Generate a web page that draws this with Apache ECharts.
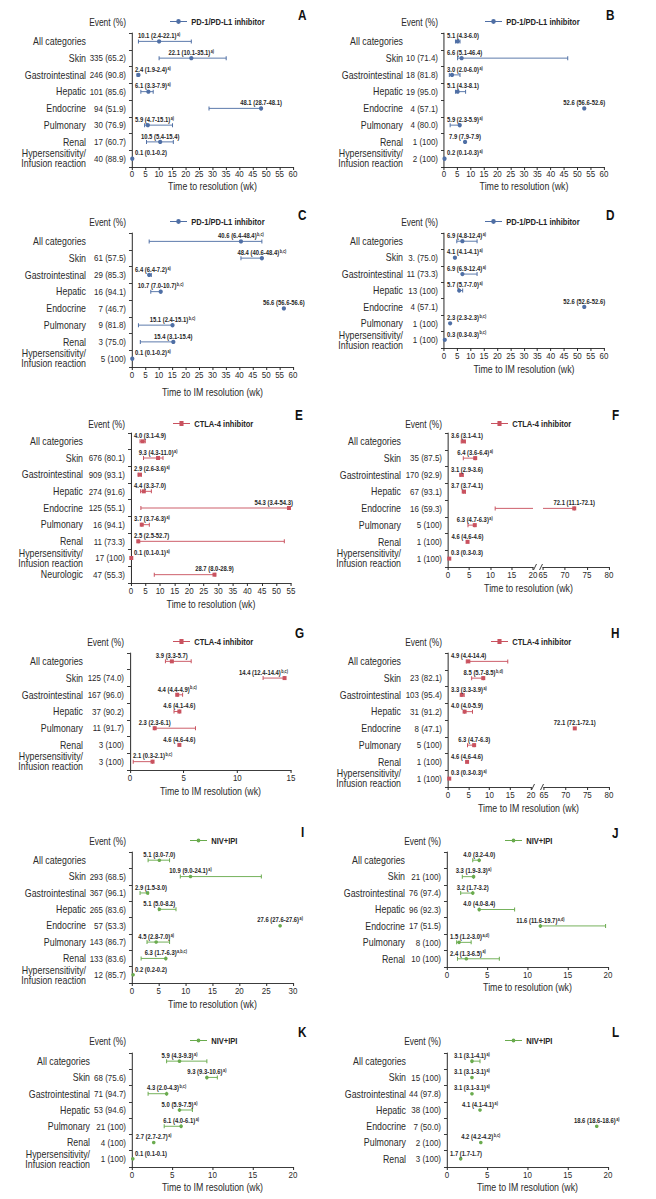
<!DOCTYPE html>
<html><head><meta charset="utf-8">
<script src="https://cdn.jsdelivr.net/npm/echarts@6/dist/echarts.min.js"></script>
<style>
html,body{margin:0;padding:0;background:#fff;overflow:hidden}
#wrap{width:656px;height:1199px;overflow:hidden;position:relative}
#c{position:absolute;left:0;top:0;height:1199px;transform-origin:0 0}
</style>
</head><body><div id="wrap"><div id="c"></div></div>
<script>
// ---------------- DATA ----------------
const catsFull = ['All categories','Skin','Gastrointestinal','Hepatic','Endocrine','Pulmonary','Renal','Hypersensitivity/\nInfusion reaction'];
const catsNoRenal = ['All categories','Skin','Gastrointestinal','Hepatic','Endocrine','Pulmonary','Hypersensitivity/\nInfusion reaction'];
const catsNeuro = ['All categories','Skin','Gastrointestinal','Hepatic','Endocrine','Pulmonary','Renal','Hypersensitivity/\nInfusion reaction','Neurologic'];
const catsNoEndo = ['All categories','Skin','Gastrointestinal','Hepatic','Pulmonary','Renal','Hypersensitivity/\nInfusion reaction'];
const catsNoHyper = ['All categories','Skin','Gastrointestinal','Hepatic','Endocrine','Pulmonary','Renal'];

// A: PD-1/PD-L1, time to resolution
const eventsA = ['', '335 (65.2)', '246 (90.8)', '101 (85.6)', '94 (51.9)', '30 (76.9)', '17 (60.7)', '40 (88.9)'];
const medA  = [10.1, 22.1, 2.4, 6.1, 48.1, 5.9, 10.5, 0.1];
const lowA  = [2.4, 10.1, 1.9, 3.3, 28.7, 4.7, 5.4, 0.1];
const highA = [22.1, 35.1, 2.4, 7.9, 48.1, 15.1, 15.4, 0.2];
const textA = ['10.1 (2.4-22.1)^a)', '22.1 (10.1-35.1)^a)', '2.4 (1.9-2.4)^a)', '6.1 (3.3-7.9)^a)', '48.1 (28.7-48.1)', '5.9 (4.7-15.1)^a)', '10.5 (5.4-15.4)', '0.1 (0.1-0.2)'];

// B: PD-1/PD-L1, time to resolution
const eventsB = ['', '10 (71.4)', '18 (81.8)', '19 (95.0)', '4 (57.1)', '4 (80.0)', '1 (100)', '2 (100)'];
const medB  = [5.1, 6.6, 3.0, 5.1, 52.6, 5.9, 7.9, 0.2];
const lowB  = [4.3, 5.1, 2.0, 4.3, 52.6, 2.3, 7.9, 0.1];
const highB = [6.0, 46.4, 6.0, 8.1, 52.6, 5.9, 7.9, 0.3];
const textB = ['5.1 (4.3-6.0)', '6.6 (5.1-46.4)', '3.0 (2.0-6.0)^a)', '5.1 (4.3-8.1)', '52.6 (56.6-52.6)', '5.9 (2.3-5.9)^a)', '7.9 (7.9-7.9)', '0.2 (0.1-0.3)^a)'];

// C: PD-1/PD-L1, time to IM resolution
const eventsC = ['', '61 (57.5)', '29 (85.3)', '16 (94.1)', '7 (46.7)', '9 (81.8)', '3 (75.0)', '5 (100)'];
const medC  = [40.6, 48.4, 6.4, 10.7, 56.6, 15.1, 15.4, 0.1];
const lowC  = [6.4, 40.6, 6.4, 7.0, 56.6, 2.4, 3.1, 0.1];
const highC = [48.4, 48.4, 7.2, 10.7, 56.6, 15.1, 15.4, 0.2];
const textC = ['40.6 (6.4-48.4)^b,c)', '48.4 (40.6-48.4)^b,c)', '6.4 (6.4-7.2)^a)', '10.7 (7.0-10.7)^b,c)', '56.6 (56.6-56.6)', '15.1 (2.4-15.1)^b,c)', '15.4 (3.1-15.4)', '0.1 (0.1-0.2)^a)'];

// D: PD-1/PD-L1, time to IM resolution
const eventsD = ['', '3. (75.0)', '11 (73.3)', '13 (100)', '4 (57.1)', '1 (100)', '1 (100)'];
const medD  = [6.9, 4.1, 6.9, 5.7, 52.6, 2.3, 0.3];
const lowD  = [4.8, 4.1, 6.9, 5.7, 52.6, 2.3, 0.3];
const highD = [12.4, 4.1, 12.4, 7.0, 52.6, 2.3, 0.3];
const textD = ['6.9 (4.8-12.4)^a)', '4.1 (4.1-4.1)^a)', '6.9 (6.9-12.4)^a)', '5.7 (5.7-7.0)^a)', '52.6 (52.6-52.6)', '2.3 (2.3-2.3)^b,c)', '0.3 (0.3-0.3)^b,c)'];

// E: CTLA-4, time to resolution
const eventsE = ['', '676 (80.1)', '909 (93.1)', '274 (91.6)', '125 (55.1)', '16 (94.1)', '11 (73.3)', '17 (100)', '47 (55.3)'];
const medE  = [4.0, 9.3, 2.9, 4.4, 54.3, 3.7, 2.5, 0.1, 28.7];
const lowE  = [3.1, 4.3, 2.6, 3.3, 3.4, 3.7, 2.5, 0.1, 8.0];
const highE = [4.9, 11.0, 3.6, 7.0, 54.3, 6.3, 52.7, 0.1, 28.9];
const textE = ['4.0 (3.1-4.9)', '9.3 (4.3-11.0)^a)', '2.9 (2.6-3.6)^a)', '4.4 (3.3-7.0)', '54.3 (3.4-54.3)', '3.7 (3.7-6.3)^a)', '2.5 (2.5-52.7)', '0.1 (0.1-0.1)^a)', '28.7 (8.0-28.9)'];

// F: CTLA-4, time to resolution (broken axis)
const eventsF = ['', '35 (87.5)', '170 (92.9)', '67 (93.1)', '16 (59.3)', '5 (100)', '1 (100)', '1 (100)'];
const medF  = [3.6, 6.4, 3.1, 3.7, 72.1, 6.3, 4.6, 0.3];
const lowF  = [3.1, 3.6, 2.9, 3.7, 11.1, 4.7, 4.6, 0.3];
const highF = [4.1, 6.4, 3.6, 4.1, 72.1, 6.3, 4.6, 0.3];
const textF = ['3.6 (3.1-4.1)', '6.4 (3.6-6.4)^a)', '3.1 (2.9-3.6)', '3.7 (3.7-4.1)', '72.1 (11.1-72.1)', '6.3 (4.7-6.3)^a)', '4.6 (4.6-4.6)', '0.3 (0.3-0.3)'];

// G: CTLA-4, time to IM resolution
const eventsG = ['', '125 (74.0)', '167 (96.0)', '37 (90.2)', '11 (91.7)', '3 (100)', '3 (100)'];
const medG  = [3.9, 14.4, 4.4, 4.6, 2.3, 4.6, 2.1];
const lowG  = [3.3, 12.4, 4.4, 4.1, 2.3, 4.6, 0.3];
const highG = [5.7, 14.4, 4.9, 4.6, 6.1, 4.6, 2.1];
const textG = ['3.9 (3.3-5.7)', '14.4 (12.4-14.4)^b,c)', '4.4 (4.4-4.9)^b,c)', '4.6 (4.1-4.6)', '2.3 (2.3-6.1)', '4.6 (4.6-4.6)', '2.1 (0.3-2.1)^b,c)'];

// H: CTLA-4, time to IM resolution (broken axis)
const eventsH = ['', '23 (82.1)', '103 (95.4)', '31 (91.2)', '8 (47.1)', '5 (100)', '1 (100)', '1 (100)'];
const medH  = [4.9, 8.5, 3.3, 4.0, 72.1, 6.3, 4.6, 0.3];
const lowH  = [4.4, 5.7, 3.3, 4.0, 72.1, 4.7, 4.6, 0.3];
const highH = [14.4, 8.5, 3.9, 5.9, 72.1, 6.3, 4.6, 0.3];
const textH = ['4.9 (4.4-14.4)', '8.5 (5.7-8.5)^b,d)', '3.3 (3.3-3.9)^a)', '4.0 (4.0-5.9)', '72.1 (72.1-72.1)', '6.3 (4.7-6.3)', '4.6 (4.6-4.6)', '0.3 (0.3-0.3)^a)'];

// I: NIV+IPI, time to resolution
const eventsI = ['', '293 (68.5)', '367 (96.1)', '265 (83.6)', '57 (53.3)', '143 (86.7)', '133 (83.6)', '12 (85.7)'];
const medI  = [5.1, 10.9, 2.9, 5.1, 27.6, 4.5, 6.3, 0.2];
const lowI  = [3.0, 9.0, 1.5, 5.0, 27.6, 2.8, 1.7, 0.2];
const highI = [7.0, 24.1, 3.0, 8.2, 27.6, 7.0, 6.3, 0.2];
const textI = ['5.1 (3.0-7.0)', '10.9 (9.0-24.1)^a)', '2.9 (1.5-3.0)', '5.1 (5.0-8.2)', '27.6 (27.6-27.6)^a)', '4.5 (2.8-7.0)^a)', '6.3 (1.7-6.3)^a,b,c)', '0.2 (0.2-0.2)'];

// J: NIV+IPI, time to resolution
const eventsJ = ['', '21 (100)', '76 (97.4)', '96 (92.3)', '17 (51.5)', '8 (100)', '10 (100)'];
const medJ  = [4.0, 3.3, 3.2, 4.0, 11.6, 1.5, 2.4];
const lowJ  = [3.2, 1.9, 1.7, 4.0, 11.6, 1.2, 1.3];
const highJ = [4.0, 3.3, 3.2, 8.4, 19.7, 3.0, 6.5];
const textJ = ['4.0 (3.2-4.0)', '3.3 (1.9-3.3)^a)', '3.2 (1.7-3.2)', '4.0 (4.0-8.4)', '11.6 (11.6-19.7)^a,d)', '1.5 (1.2-3.0)^a,d)', '2.4 (1.3-6.5)^a)'];

// K: NIV+IPI, time to IM resolution
const eventsK = ['', '68 (75.6)', '71 (94.7)', '53 (94.6)', '21 (100)', '4 (100)', '1 (100)'];
const medK  = [5.9, 9.3, 4.3, 5.9, 6.1, 2.7, 0.1];
const lowK  = [4.3, 9.3, 2.0, 5.9, 4.0, 2.7, 0.1];
const highK = [9.3, 10.6, 4.3, 7.5, 6.1, 2.7, 0.1];
const textK = ['5.9 (4.3-9.3)^a)', '9.3 (9.3-10.6)^a)', '4.3 (2.0-4.3)^b,c)', '5.0 (5.9-7.5)^a)', '6.1 (4.0-6.1)^a)', '2.7 (2.7-2.7)^a)', '0.1 (0.1-0.1)'];

// L: NIV+IPI, time to IM resolution
const eventsL = ['', '15 (100)', '44 (97.8)', '38 (100)', '7 (50.0)', '2 (100)', '3 (100)'];
const medL  = [3.1, 3.1, 3.1, 4.1, 18.6, 4.2, 1.7];
const lowL  = [3.1, 3.1, 3.1, 4.1, 18.6, 4.2, 1.7];
const highL = [4.1, 3.1, 3.1, 4.1, 18.6, 4.2, 1.7];
const textL = ['3.1 (3.1-4.1)^a)', '3.1 (3.1-3.1)^a)', '3.1 (3.1-3.1)^a)', '4.1 (4.1-4.1)^a)', '18.6 (18.6-18.6)^a)', '4.2 (4.2-4.2)^b,c)', '1.7 (1.7-1.7)'];

const TITLE_RES = 'Time to resolution (wk)';
const TITLE_IM = 'Time to IM resolution (wk)';
const EVENT_HDR = 'Event (%)';

// ---------------- STYLE / LAYOUT ----------------
// The original uses a condensed typeface; the drawing is laid out wider and
// compressed horizontally so that a regular sans renders with condensed proportions.
const SQ = 0.84;
const X = v => v / SQ;
const W = 656, H = 1199;
const FONT = "'Liberation Sans',Arial,sans-serif";
const TXT = '#2a2a2a', AXC = '#2a2a2a', LBL = '#262626';
const NAME_FS = 10.5, EVENT_FS = 9.5, TICK_FS = 9.5, TITLE_FS = 10.5, LEG_FS = 9;
const KINDS = {
  pd:   {name:'PD-1/PD-L1 inhibitor', color:'#4f6fa5', shape:'circle',
         icon:'path://M0,2.4L20,2.4L20,3.6L0,3.6Z M7.3,3A2.7,2.4,0,1,1,12.7,3A2.7,2.4,0,1,1,7.3,3Z'},
  ctla: {name:'CTLA-4 inhibitor', color:'#c9525f', shape:'square',
         icon:'path://M0,2.4L20,2.4L20,3.6L0,3.6Z M7.6,0.6L12.4,0.6L12.4,5.4L7.6,5.4Z'},
  niv:  {name:'NIV+IPI', color:'#6aab4e', shape:'dot',
         icon:'path://M0,2.4L20,2.4L20,3.6L0,3.6Z M7.8,3A2.2,2,0,1,1,12.2,3A2.2,2,0,1,1,7.8,3Z'}
};

const panels = [
 {letter:'A', kind:'pd', cats:catsFull, events:eventsA, med:medA, low:lowA, high:highA, text:textA, title:TITLE_RES,
  box:{l:132,r:293,t:33,b:167}, xmax:60, nameOff:46, let:{x:298,y:8}, leg:{x:170,y:23}, gap:13.5, lm:2, slack:14},
 {letter:'B', kind:'pd', cats:catsFull, events:eventsB, med:medB, low:lowB, high:highB, text:textB, title:TITLE_RES,
  box:{l:444,r:604,t:33,b:167}, xmax:60, nameOff:41, let:{x:606,y:8}, leg:{x:485,y:23}, gap:13.5, lm:2, slack:14},
 {letter:'C', kind:'pd', cats:catsFull, events:eventsC, med:medC, low:lowC, high:highC, text:textC, title:TITLE_IM,
  box:{l:132,r:293,t:233,b:367}, xmax:60, nameOff:46, let:{x:298,y:208}, leg:{x:170,y:223}, gap:20, lm:3, slack:14},
 {letter:'D', kind:'pd', cats:catsNoRenal, events:eventsD, med:medD, low:lowD, high:highD, text:textD, title:TITLE_IM,
  box:{l:444,r:604,t:233,b:348}, xmax:60, nameOff:41, let:{x:606,y:208}, leg:{x:485,y:223}, gap:16, lm:3, slack:14},
 {letter:'E', kind:'ctla', cats:catsNeuro, events:eventsE, med:medE, low:lowE, high:highE, text:textE, title:TITLE_RES,
  box:{l:131,r:291,t:433,b:583}, xmax:55, nameOff:48, let:{x:295,y:408}, leg:{x:173,y:425}, gap:16, lm:3, slack:2},
 {letter:'F', kind:'ctla', cats:catsFull, events:eventsF, med:medF, low:lowF, high:highF, text:textF, title:TITLE_RES,
  box:{l:448,r:533,t:433,b:567}, xmax:20, box2:{l:543,r:609}, min2:65, max2:80, nameOff:47, let:{x:612,y:408}, leg:{x:491,y:425}, titleY:588, lm:3, slack:14},
 {letter:'G', kind:'ctla', cats:catsNoEndo, events:eventsG, med:medG, low:lowG, high:highG, text:textG, title:TITLE_IM,
  box:{l:130,r:291,t:653,b:770}, xmax:15, nameOff:47, let:{x:295,y:626}, leg:{x:173,y:643}, gap:16, lm:3, slack:-3},
 {letter:'H', kind:'ctla', cats:catsFull, events:eventsH, med:medH, low:lowH, high:highH, text:textH, title:TITLE_IM,
  box:{l:448,r:531,t:653,b:787}, xmax:20, box2:{l:544,r:609}, min2:65, max2:80, nameOff:47, let:{x:611,y:626}, leg:{x:491,y:643}, titleY:808, lm:3, slack:14},
 {letter:'I', kind:'niv', cats:catsFull, events:eventsI, med:medI, low:lowI, high:highI, text:textI, title:TITLE_RES,
  box:{l:132,r:293,t:852,b:983}, xmax:30, nameOff:46, let:{x:301,y:825}, leg:{x:190,y:842}, gap:16, lm:3, slack:14},
 {letter:'J', kind:'niv', cats:catsNoHyper, events:eventsJ, med:medJ, low:lowJ, high:highJ, text:textJ, title:TITLE_RES,
  box:{l:447,r:608,t:852,b:967}, xmax:20, nameOff:42, let:{x:612,y:826}, leg:{x:505,y:842}, gap:15, lm:3, slack:14},
 {letter:'K', kind:'niv', cats:catsNoEndo, events:eventsK, med:medK, low:lowK, high:highK, text:textK, title:TITLE_IM,
  box:{l:132,r:293,t:1053,b:1167}, xmax:20, nameOff:42, let:{x:298,y:1025}, leg:{x:190,y:1042}, gap:15, lm:3, slack:14},
 {letter:'L', kind:'niv', cats:catsNoHyper, events:eventsL, med:medL, low:lowL, high:highL, text:textL, title:TITLE_IM,
  box:{l:447,r:608,t:1053,b:1167}, xmax:20, nameOff:41, let:{x:612,y:1025}, leg:{x:505,y:1042}, gap:15, lm:3, slack:14}
];

// ---------------- BUILD ----------------
const MAIN_SIZE = 7, SUP_SIZE = 4.5;
const mctx = document.createElement('canvas').getContext('2d');
function tw(s, size){ mctx.font = 'bold ' + size + 'px ' + FONT; return mctx.measureText(s).width; }

function makeRender(P, xmin, xmax, S) {
  return function (params, api) {
    const i = params.dataIndex;
    const med = api.value(0), ci = api.value(1), lo = api.value(2), hi = api.value(3);
    const p0 = api.coord([xmin, ci]);
    const y = p0[1], xL = p0[0], xR = api.coord([xmax, ci])[0];
    const st = {stroke: S.color, lineWidth: 1};
    const capSt = {stroke: S.color, lineWidth: 1 / SQ};
    const ch = [];
    const a = Math.max(lo, xmin), b = Math.min(hi, xmax);
    if (b > a) {
      const x1 = api.coord([a, ci])[0], x2 = api.coord([b, ci])[0];
      ch.push({type:'line', shape:{x1:x1, y1:y, x2:x2, y2:y}, style:st});
      if (lo >= xmin) ch.push({type:'line', shape:{x1:x1, y1:y-2, x2:x1, y2:y+2}, style:capSt});
      if (hi <= xmax) ch.push({type:'line', shape:{x1:x2, y1:y-2, x2:x2, y2:y+2}, style:capSt});
    }
    if (med >= xmin && med <= xmax) {
      const mx = api.coord([med, ci])[0];
      if (S.shape === 'circle') ch.push({type:'ellipse', shape:{cx:mx, cy:y, rx:2.1/SQ, ry:2.1}, style:{fill:S.color}});
      else if (S.shape === 'square') ch.push({type:'rect', shape:{x:mx-2/SQ, y:y-2, width:4/SQ, height:4}, style:{fill:S.color}});
      else ch.push({type:'ellipse', shape:{cx:mx, cy:y, rx:1.8/SQ, ry:1.8}, style:{fill:S.color}});
      const parts = P.text[i].split('^');
      const w = tw(parts[0], MAIN_SIZE) + (parts[1] ? tw(parts[1], SUP_SIZE) + 0.5 : 0);
      let lx = mx - w / 2;
      lx = Math.min(lx, xR + X(P.slack) - w);
      lx = Math.max(lx, xL + X(3));
      const txt = parts[1] ? '{m|' + parts[0] + '}{s|' + parts[1] + '}' : '{m|' + parts[0] + '}';
      ch.push({type:'text', x: lx, y: y - 2.5, style:{
        text: txt, fill: LBL, textFill: LBL, fontSize: MAIN_SIZE, fontFamily: FONT, fontWeight: 'bold',
        align:'left', verticalAlign:'bottom', textAlign:'left', textVerticalAlign:'bottom',
        rich: {
          m: {fontSize: MAIN_SIZE, fontFamily: FONT, fontWeight: 'bold', fill: LBL, textFill: LBL},
          s: {fontSize: SUP_SIZE, fontFamily: FONT, fontWeight: 'bold', fill: LBL, textFill: LBL, verticalAlign: 'top', padding: [0,0,0,0.5]}
        }}});
    }
    return {type:'group', children: ch};
  };
}

const option = {animation:false, backgroundColor:'#fff', grid:[], xAxis:[], yAxis:[], series:[], legend:[], title:[], graphic:[]};
const xAxisBase = (g, min, max, lm) => ({
  gridIndex: g, type:'value', min: min, max: max, interval: 5,
  axisLine: {show:true, onZero:false, lineStyle:{color:AXC, width:1}},
  axisTick: {show:true, length:3, lineStyle:{color:AXC, width:1/SQ}},
  axisLabel: {margin:lm, fontSize:TICK_FS, color:TXT, fontFamily:FONT},
  splitLine: {show:false}
});

panels.forEach(P => {
  const S = KINDS[P.kind];
  const bx = P.box;
  const data = P.med.map((m, i) => [m, i, P.low[i], P.high[i]]);
  const g = option.grid.length;
  option.grid.push({left: X(bx.l), top: bx.t, width: X(bx.r - bx.l), height: bx.b - bx.t, containLabel:false, outerBoundsMode:'none'});
  const xa = option.xAxis.length;
  const xax = xAxisBase(g, 0, P.xmax, P.lm);
  if (!P.box2) {
    Object.assign(xax, {name: P.title, nameLocation:'middle', nameGap: P.gap, nameMoveOverlap:false,
      nameTextStyle:{fontSize:TITLE_FS, color:TXT, fontFamily:FONT, verticalAlign:'top'}});
  }
  option.xAxis.push(xax);
  const ye = option.yAxis.length;
  option.yAxis.push({gridIndex:g, type:'category', position:'left', data:P.events, inverse:true,
    axisLine:{show:true, onZero:false, lineStyle:{color:AXC, width:1/SQ}},
    axisTick:{show:true, length:X(3), interval:0, lineStyle:{color:AXC}},
    axisLabel:{margin:X(6), interval:0, fontSize:EVENT_FS, color:TXT, fontFamily:FONT},
    splitLine:{show:false}});
  option.yAxis.push({gridIndex:g, type:'category', position:'left', data:P.cats, inverse:true, offset:X(P.nameOff),
    axisLine:{show:false}, axisTick:{show:false},
    axisLabel:{margin:0, interval:0, fontSize:NAME_FS, lineHeight:10, color:TXT, fontFamily:FONT, align:'right'},
    splitLine:{show:false}});
  option.series.push({type:'custom', name:S.name, coordinateSystem:'cartesian2d', xAxisIndex:xa, yAxisIndex:ye,
    itemStyle:{color:S.color}, data:data, encode:{x:[0,2,3], y:1}, clip:false, silent:true,
    renderItem: makeRender(P, 0, P.xmax, S)});

  if (P.box2) {
    const b2 = P.box2;
    const g2 = option.grid.length;
    option.grid.push({left: X(b2.l), top: bx.t, width: X(b2.r - b2.l), height: bx.b - bx.t, containLabel:false, outerBoundsMode:'none'});
    const xa2 = option.xAxis.length;
    option.xAxis.push(xAxisBase(g2, P.min2, P.max2, P.lm));
    const y2 = option.yAxis.length;
    option.yAxis.push({gridIndex:g2, type:'category', data:P.cats, inverse:true, show:false});
    option.series.push({type:'custom', name:S.name, coordinateSystem:'cartesian2d', xAxisIndex:xa2, yAxisIndex:y2,
      itemStyle:{color:S.color}, data:data, encode:{x:[0,2,3], y:1}, clip:false, silent:true,
      renderItem: makeRender(P, P.min2, P.max2, S)});
    option.graphic.push({type:'text', x:X((bx.l + b2.r) / 2), y:P.titleY, silent:true,
      style:{text:P.title, fontSize:TITLE_FS, fontFamily:FONT, fill:TXT, textFill:TXT,
        align:'center', verticalAlign:'middle', textAlign:'center', textVerticalAlign:'middle'}});
    [bx.r + 2, b2.l - 2].forEach(x => option.graphic.push({type:'line', silent:true,
      shape:{x1:X(x - 1.5), y1:bx.b + 3, x2:X(x + 1.5), y2:bx.b - 3}, style:{stroke:AXC, lineWidth:1}}));
  }

  option.legend.push({data:[S.name], left:X(P.leg.x), top:P.leg.y - 6, padding:0, itemWidth:X(17), itemHeight:5,
    itemGap:5, icon:S.icon, selectedMode:false,
    itemStyle:{color:S.color, borderWidth:0, opacity:1},
    textStyle:{fontSize:LEG_FS, fontWeight:'bold', color:'#262626', fontFamily:FONT}});
  option.graphic.push({type:'text', x:X(bx.l - 6), y:P.leg.y, silent:true,
    style:{text:EVENT_HDR, fontSize:10, fontFamily:FONT, fill:TXT, textFill:TXT,
      align:'right', verticalAlign:'middle', textAlign:'right', textVerticalAlign:'middle'}});
  option.title.push({text:P.letter, left:X(P.let.x), top:P.let.y, padding:0,
    textStyle:{fontSize:14, fontWeight:'bold', color:'#111', fontFamily:FONT}});
});

const el = document.getElementById('c');
el.style.width = X(W) + 'px';
el.style.transform = 'scaleX(' + SQ + ')';
const chart = echarts.init(el, null, {renderer:'svg', width: X(W), height: H});
chart.setOption(option);
</script></body></html>
